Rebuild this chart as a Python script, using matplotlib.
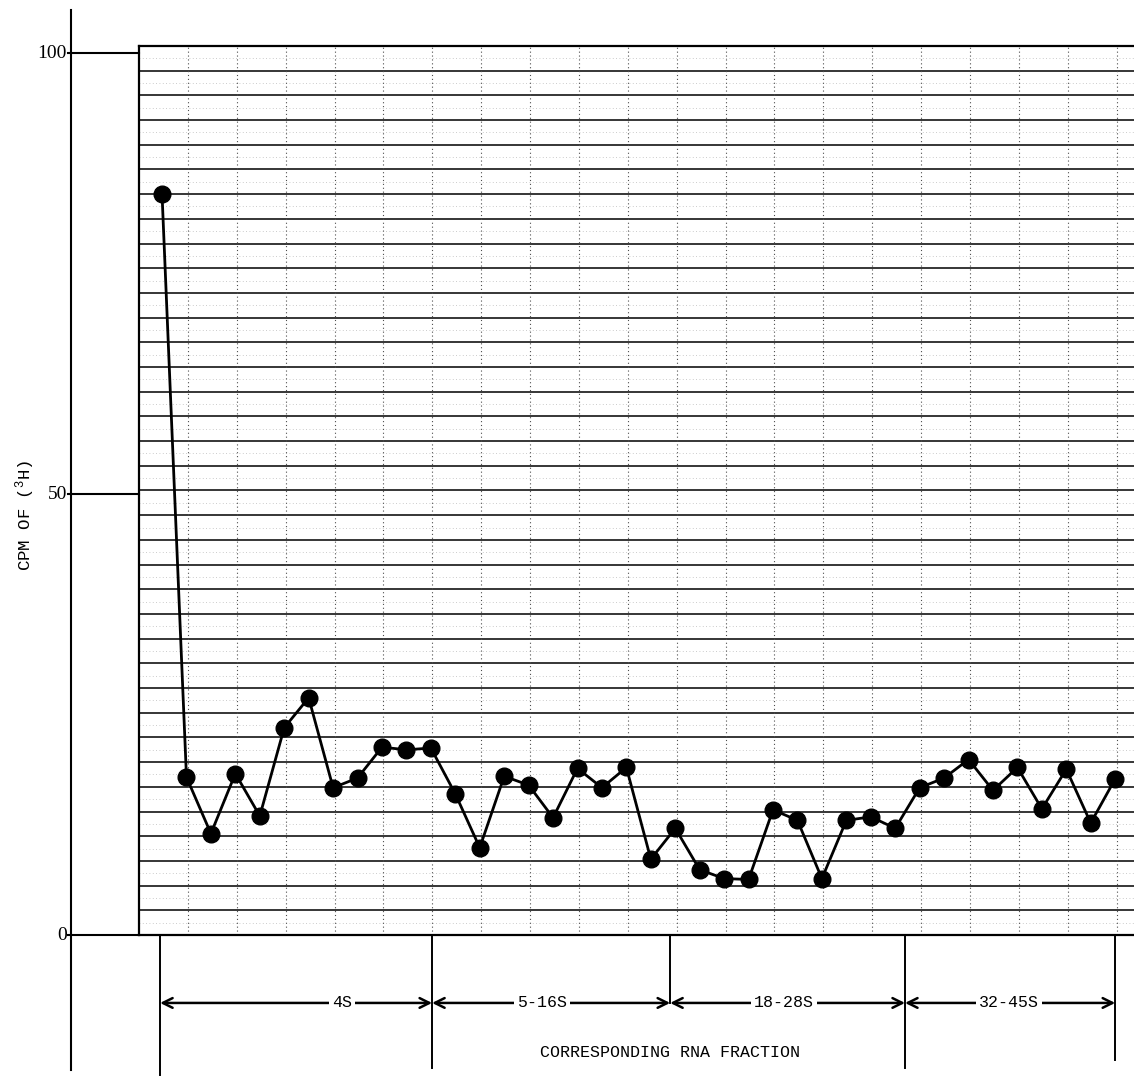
import numpy as np
import matplotlib.pyplot as plt

# CPM of 3H per gradient fraction
fractions = list(range(1, 41))
cpm = [84.0, 17.9, 11.5, 18.3, 13.5, 23.5, 26.9, 16.7, 17.8, 21.3,
       21.0, 21.2, 16.0, 9.9, 18.0, 17.0, 13.3, 18.9, 16.7, 19.0,
       8.6, 12.1, 7.4, 6.4, 6.3, 14.2, 13.0, 6.4, 13.0, 13.4,
       12.1, 16.7, 17.8, 19.9, 16.4, 19.0, 14.3, 18.8, 12.7, 17.7]

yticks = [0, 50, 100]

# RNA fraction brackets under the plot
bounds = [0.92, 12.05, 21.79, 31.40, 40.0]
seg_labels = ['4S', '5-16S', '18-28S', '32-45S']
seg_label_x = [8.37, 16.55, 26.45, 35.66]

mono = 'Liberation Mono'
serif = 'Liberation Serif'

fig = plt.figure(figsize=(11.34, 10.78), dpi=100)
ax = fig.add_axes([0, 0, 1, 1])
ax.set_xlim(-5.63, 40.77)
ax.set_ylim(-16.21, 106.01)
ax.axis('off')

# graph paper box
box_left = 0.06
box_right = 41.0
box_top = 100.8
step = box_top / 36

for k in range(1, 72):
    if k % 2 == 1:
        ax.plot([box_left, box_right], [k * step / 2] * 2, color='0.55', lw=0.6,
                ls=(0, (1, 3)), alpha=0.6, zorder=1)
for k in range(1, 36):
    ax.plot([box_left, box_right], [k * step] * 2, color='black', lw=1.1, zorder=2)
for k in range(1, 21):
    ax.plot([box_left + 2 * k] * 2, [0, box_top], color='0.3', lw=0.8,
            ls=(0, (1, 2.5)), zorder=2)

ax.plot([box_left, box_left], [0, box_top], color='black', lw=1.6, zorder=3)
ax.plot([box_left, box_right], [0, 0], color='black', lw=1.6, zorder=3)
ax.plot([box_left, box_right], [box_top, box_top], color='black', lw=1.6, zorder=3)

# outer y axis with long ticks
axis_x = -2.72
ax.plot([axis_x, axis_x], [-15.3, 104.9], color='black', lw=1.5)
for t in yticks:
    ax.plot([axis_x - 0.12, box_left], [t, t], color='black', lw=1.5)
    ax.text(axis_x - 0.17, t, str(t), ha='right', va='center',
            fontsize=14, family=serif)

ax.text(-4.6, 47.6, 'CPM OF ($\\mathregular{^{3}}$H)', rotation=90,
        ha='center', va='center', fontsize=12.5, family=mono)

# data
ax.plot(fractions, cpm, color='black', lw=2.0, marker='o', markersize=12,
        zorder=5)

# brackets
arrow_y = -7.7
line_bottoms = [-15.9, -15.1, arrow_y, -15.1, -14.2]
for b, lb in zip(bounds, line_bottoms):
    ax.plot([b, b], [0, lb], color='black', lw=1.4)
for i in range(len(seg_labels)):
    ax.annotate('', xy=(bounds[i], arrow_y), xytext=(bounds[i + 1], arrow_y),
                arrowprops=dict(arrowstyle='<->,head_length=0.7,head_width=0.35',
                                color='black', lw=1.8, shrinkA=0, shrinkB=0))
    ax.text(seg_label_x[i], arrow_y, seg_labels[i], ha='center', va='center',
            fontsize=12, family=mono, zorder=6,
            bbox=dict(facecolor='white', edgecolor='none', pad=2))

ax.text(21.8, -13.27, 'CORRESPONDING RNA FRACTION', ha='center', va='center',
        fontsize=12, family=mono)

fig.savefig('out.png', dpi=100)
